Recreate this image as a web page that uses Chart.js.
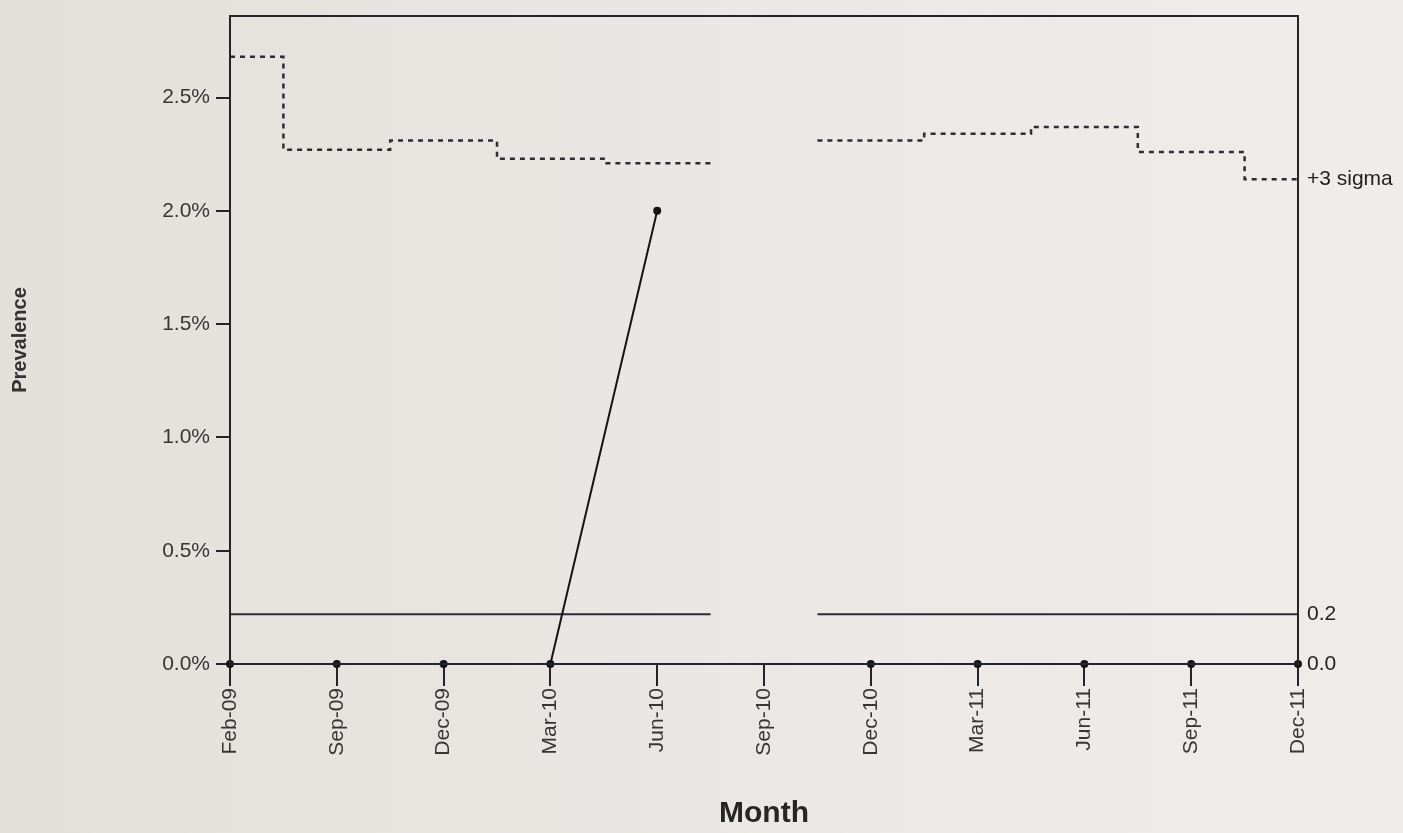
<!DOCTYPE html>
<html>
<head>
<meta charset="utf-8">
<script src="https://cdn.jsdelivr.net/npm/chart.js@4"></script>
<style>
  html, body { margin: 0; padding: 0; background: #e9e6e2; }
  #wrap { width: 1403px; height: 833px; position: relative; }
</style>
</head>
<body>
<div id="wrap"><canvas id="c" width="1403" height="833"></canvas></div>
<script>
// ---- data ----
const months = ['Feb-09','Sep-09','Dec-09','Mar-10','Jun-10','Sep-10','Dec-10','Mar-11','Jun-11','Sep-11','Dec-11'];
const prevalence = [0, 0, 0, 0, 2.0, null, 0, 0, 0, 0, 0];
const upperLimit = [2.68, 2.27, 2.31, 2.23, 2.21, null, 2.31, 2.34, 2.37, 2.26, 2.14];
const centerLine = [0.22, 0.22, 0.22, 0.22, 0.22, null, 0.22, 0.22, 0.22, 0.22, 0.22];
const yTicks = [0, 0.5, 1.0, 1.5, 2.0, 2.5];
const yMax = 2.86;

// points of a series on index positions
function pointsOf(arr) {
  return arr.map((v, i) => ({ x: i, y: v }));
}
// step segments centred on each month, broken at gaps
function stepsOf(arr) {
  const out = [];
  const last = arr.length - 1;
  arr.forEach((v, i) => {
    if (v === null) { out.push({ x: i, y: null }); return; }
    out.push({ x: Math.max(0, i - 0.5), y: v });
    out.push({ x: Math.min(last, i + 0.5), y: v });
  });
  return out;
}
const lastUcl = upperLimit[upperLimit.length - 1];
const rightTicks = [0, centerLine[centerLine.length - 1], lastUcl];

const ink = '#24242c';
const textCol = '#363636';
const fam = 'Liberation Sans, Arial, sans-serif';

const bgPlugin = {
  id: 'bg',
  beforeDraw(chart) {
    const ctx = chart.ctx;
    const g = ctx.createLinearGradient(0, 0, chart.width, 0);
    g.addColorStop(0, '#e3e0dc');
    g.addColorStop(0.6, '#ebe8e5');
    g.addColorStop(1, '#efedea');
    ctx.save();
    ctx.fillStyle = g;
    ctx.fillRect(0, 0, chart.width, chart.height);
    ctx.restore();
  }
};
const framePlugin = {
  id: 'frame',
  afterDatasetsDraw(chart) {
    const a = chart.chartArea, ctx = chart.ctx;
    ctx.save();
    ctx.strokeStyle = ink;
    ctx.lineWidth = 2;
    ctx.strokeRect(a.left, a.top, a.right - a.left, a.bottom - a.top);
    ctx.restore();
  }
};

function fitVertical(width) {
  return function (scale) {
    scale.width = width;
    scale.paddingTop = 0;
    scale.paddingBottom = 0;
  };
}

new Chart(document.getElementById('c'), {
  type: 'line',
  data: {
    datasets: [
      {
        label: 'Prevalence',
        data: pointsOf(prevalence),
        borderColor: '#151515',
        backgroundColor: '#151515',
        borderWidth: 2,
        pointRadius: 4,
        pointBorderWidth: 0,
        spanGaps: false,
        clip: false,
        order: 0
      },
      {
        label: '+3 sigma',
        data: stepsOf(upperLimit),
        borderColor: '#2c2c34',
        borderWidth: 2.5,
        borderDash: [5, 5],
        pointRadius: 0,
        spanGaps: false,
        order: 1
      },
      {
        label: 'Center',
        data: stepsOf(centerLine),
        borderColor: '#2c2c34',
        borderWidth: 2,
        pointRadius: 0,
        spanGaps: false,
        order: 1
      }
    ]
  },
  options: {
    responsive: false,
    animation: false,
    layout: { padding: { top: 16, left: 0, right: 0, bottom: 0 } },
    plugins: { legend: { display: false }, tooltip: { enabled: false } },
    elements: { line: { tension: 0 } },
    scales: {
      x: {
        type: 'linear',
        min: 0,
        max: months.length - 1,
        afterBuildTicks(axis) { axis.ticks = months.map((m, i) => ({ value: i })); },
        afterFit(scale) { scale.height = 169; scale.paddingLeft = 0; scale.paddingRight = 0; },
        ticks: {
          autoSkip: false,
          maxRotation: 90,
          minRotation: 90,
          padding: 2,
          color: textCol,
          font: { family: fam, size: 21 },
          callback: (v) => months[v]
        },
        grid: { drawOnChartArea: false, drawTicks: true, tickLength: 22, color: ink, lineWidth: 2 },
        border: { display: false },
        title: {
          display: true,
          text: 'Month',
          color: '#262626',
          font: { family: fam, size: 30, weight: 'bold' },
          padding: { top: 0, bottom: 1 }
        }
      },
      y: {
        type: 'linear',
        position: 'left',
        min: 0,
        max: yMax,
        afterBuildTicks(axis) { axis.ticks = yTicks.map(v => ({ value: v })); },
        afterFit: fitVertical(230),
        ticks: {
          padding: 6,
          color: textCol,
          font: { family: fam, size: 21 },
          callback: (v) => v.toFixed(1) + '%'
        },
        grid: { drawOnChartArea: false, drawTicks: true, tickLength: 14, color: ink, lineWidth: 2 },
        border: { display: false },
        title: {
          display: true,
          text: 'Prevalence',
          color: '#333',
          font: { family: fam, size: 20, weight: 'bold' },
          padding: { top: 8, bottom: 0 }
        }
      },
      yr: {
        type: 'linear',
        position: 'right',
        min: 0,
        max: yMax,
        afterBuildTicks(axis) { axis.ticks = rightTicks.map(v => ({ value: v })); },
        afterFit: fitVertical(105),
        ticks: {
          padding: 9,
          color: '#222',
          font: { family: fam, size: 21 },
          callback: (v) => (v === lastUcl ? '+3 sigma' : v.toFixed(1))
        },
        grid: { display: false, drawTicks: false },
        border: { display: false }
      }
    }
  },
  plugins: [bgPlugin, framePlugin]
});
</script>
</body>
</html>
